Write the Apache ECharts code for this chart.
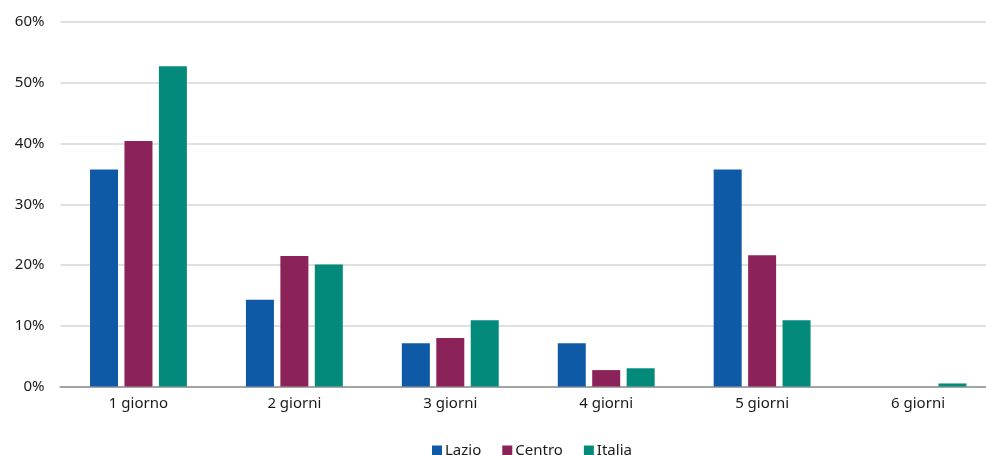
<!DOCTYPE html>
<html>
<head>
<meta charset="utf-8">
<script src="https://cdn.jsdelivr.net/npm/echarts@6/dist/echarts.min.js"></script>
<style>
  html, body { margin: 0; padding: 0; background: #ffffff; }
  #chart { width: 986px; height: 455px; }
</style>
</head>
<body>
<div id="chart"></div>
<script>
// Share of stays by number of days
const categories = ['1 giorno', '2 giorni', '3 giorni', '4 giorni', '5 giorni', '6 giorni'];
const lazio  = [35.7, 14.3, 7.1, 7.1, 35.7, 0];
const centro = [40.4, 21.5, 8.0, 2.7, 21.6, 0];
const italia = [52.7, 20.1, 10.9, 3.0, 10.9, 0.5];
const seriesNames = ['Lazio', 'Centro', 'Italia'];
const seriesColors = ['#0E5AA7', '#8B2259', '#048A7B'];

const FONT = 'Noto Sans';
const chart = echarts.init(document.getElementById('chart'));

const makeBar = (name, data, color) => ({
  name: name,
  type: 'bar',
  data: data,
  barWidth: 28,
  barGap: '23%',
  itemStyle: { color: color }
});

chart.setOption({
  animation: false,
  // plot runs slightly past the right edge of the canvas
  grid: {
    left: 60.5, width: 935.5, top: 22, height: 364.5,
    containLabel: false, outerBoundsMode: 'none'
  },
  legend: {
    top: 438,
    left: 427,
    itemWidth: 10,
    itemHeight: 10,
    itemGap: 21,
    icon: 'rect',
    textStyle: { fontFamily: FONT, fontSize: 15, color: '#1a1a1a', padding: [0, 0, 0, -2] },
    data: seriesNames
  },
  xAxis: {
    type: 'category',
    data: categories,
    axisLine: { lineStyle: { color: '#a3a3a3', width: 2 } },
    axisTick: { show: false },
    axisLabel: { fontFamily: FONT, fontSize: 15, color: '#1a1a1a', margin: 10 }
  },
  yAxis: {
    type: 'value',
    min: 0,
    max: 60,
    interval: 10,
    axisLine: { show: false },
    axisTick: { show: false },
    splitLine: { lineStyle: { color: '#d6d6d6', width: 1.5 } },
    axisLabel: { fontFamily: FONT, fontSize: 15, color: '#1a1a1a', margin: 16, formatter: '{value}%' }
  },
  series: [
    makeBar(seriesNames[0], lazio, seriesColors[0]),
    makeBar(seriesNames[1], centro, seriesColors[1]),
    makeBar(seriesNames[2], italia, seriesColors[2])
  ]
});
</script>
</body>
</html>
